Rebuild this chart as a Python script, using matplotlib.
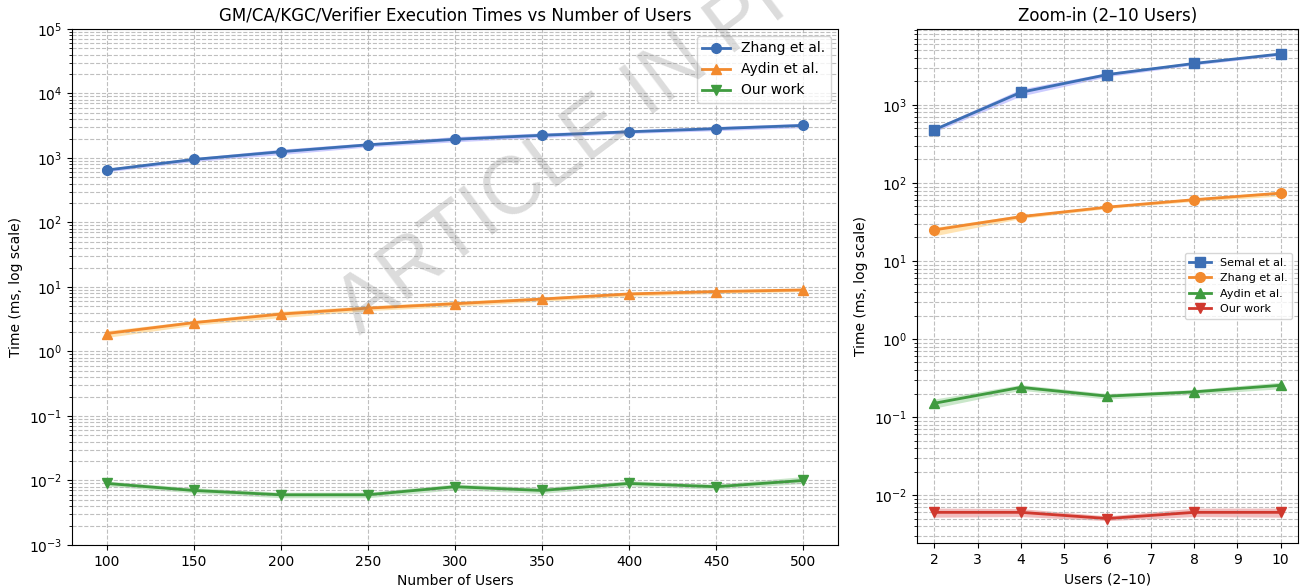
import numpy as np
import matplotlib
matplotlib.use("Agg")
import matplotlib.pyplot as plt

# ---- scaling run: 100..500 users ----
users = [100, 150, 200, 250, 300, 350, 400, 450, 500]

zhang_t = [650, 950, 1250, 1600, 1950, 2250, 2550, 2850, 3200]
zhang_lo = [610, 880, 1130, 1480, 1780, 2080, 2400, 2650, 2950]
zhang_hi = [690, 1010, 1370, 1720, 2150, 2450, 2720, 3080, 3450]

aydin_t = [1.9, 2.8, 3.8, 4.7, 5.5, 6.5, 7.8, 8.5, 9.0]
aydin_lo = [1.65, 2.55, 3.35, 4.3, 5.0, 6.0, 7.2, 7.9, 8.5]
aydin_hi = [2.1, 3.0, 4.2, 5.1, 6.0, 7.0, 8.3, 9.0, 9.5]

our_t = [0.009, 0.007, 0.006, 0.006, 0.008, 0.007, 0.009, 0.008, 0.010]
our_lo = [0.0082, 0.0064, 0.0054, 0.0054, 0.0072, 0.0063, 0.0082, 0.0073, 0.0090]
our_hi = [0.0098, 0.0077, 0.0066, 0.0066, 0.0088, 0.0078, 0.0099, 0.0088, 0.0115]

# ---- small run: 2..10 users ----
users_small = [2, 4, 6, 8, 10]

semal_s = [480, 1450, 2450, 3400, 4500]
semal_s_lo = [450, 1300, 2300, 3250, 4300]
semal_s_hi = [510, 1600, 2600, 3550, 4700]

zhang_s = [25, 37, 49, 61, 74]
zhang_s_lo = [21, 35, 47, 58, 68]
zhang_s_hi = [27, 39, 51, 64, 78]

aydin_s = [0.15, 0.24, 0.185, 0.21, 0.255]
aydin_s_lo = [0.13, 0.22, 0.17, 0.195, 0.23]
aydin_s_hi = [0.17, 0.26, 0.20, 0.225, 0.28]

our_s = [0.006, 0.006, 0.005, 0.006, 0.006]
our_s_lo = [0.0052, 0.0053, 0.0047, 0.0053, 0.0052]
our_s_hi = [0.0068, 0.0067, 0.0054, 0.0068, 0.0068]

BLUE = "#3c6eb4"
ORANGE = "#f28a2e"
GREEN = "#3f9b3f"
RED = "#d0382e"

fig = plt.figure(figsize=(13.01, 5.87), dpi=100)
ax1 = fig.add_axes([0.0553, 0.0716, 0.5887, 0.879])
ax2 = fig.add_axes([0.7048, 0.075, 0.2929, 0.8756])


def series(ax, x, y, lo, hi, color, band, band_alpha, marker, label):
    ax.fill_between(x, lo, hi, color=band, alpha=band_alpha, linewidth=0)
    ax.plot(x, y, color=color, marker=marker, markersize=7, linewidth=2, label=label)


series(ax1, users, zhang_t, zhang_lo, zhang_hi, BLUE, "blue", 0.2, "o", "Zhang et al.")
series(ax1, users, aydin_t, aydin_lo, aydin_hi, ORANGE, "orange", 0.3, "^", "Aydin et al.")
series(ax1, users, our_t, our_lo, our_hi, GREEN, "tab:green", 0.25, "v", "Our work")

ax1.set_yscale("log")
ax1.set_ylim(1e-3, 1e5)
ax1.set_xticks(users)
ax1.set_title("GM/CA/KGC/Verifier Execution Times vs Number of Users", fontsize=12)
ax1.set_xlabel("Number of Users")
ax1.set_ylabel("Time (ms, log scale)")
ax1.grid(True, which="both", linestyle="--", color="#b0b0b0", alpha=0.8)
ax1.legend(loc="upper right")

series(ax2, users_small, semal_s, semal_s_lo, semal_s_hi, BLUE, "blue", 0.2, "s", "Semal et al.")
series(ax2, users_small, zhang_s, zhang_s_lo, zhang_s_hi, ORANGE, "orange", 0.3, "o", "Zhang et al.")
series(ax2, users_small, aydin_s, aydin_s_lo, aydin_s_hi, GREEN, "tab:green", 0.25, "^", "Aydin et al.")
series(ax2, users_small, our_s, our_s_lo, our_s_hi, RED, "tab:red", 0.3, "v", "Our work")

ax2.set_yscale("log")
ax2.set_ylim(0.00243, 9400)
ax2.set_xticks(range(2, 11))
ax2.set_title("Zoom-in (2\u201310 Users)", fontsize=12)
ax2.set_xlabel("Users (2\u201310)")
ax2.set_ylabel("Time (ms, log scale)")
ax2.grid(True, which="both", linestyle="--", color="#b0b0b0", alpha=0.8)
ax2.legend(loc="center right", fontsize=8)

# watermark stamp
fig.text(0.493, 0.835, "ARTICLE IN PRESS", fontsize=58, family="Liberation Sans",
         color="gray", alpha=0.28, rotation=37, rotation_mode="anchor",
         ha="center", va="center", zorder=10)

fig.savefig("out.png", dpi=100)
